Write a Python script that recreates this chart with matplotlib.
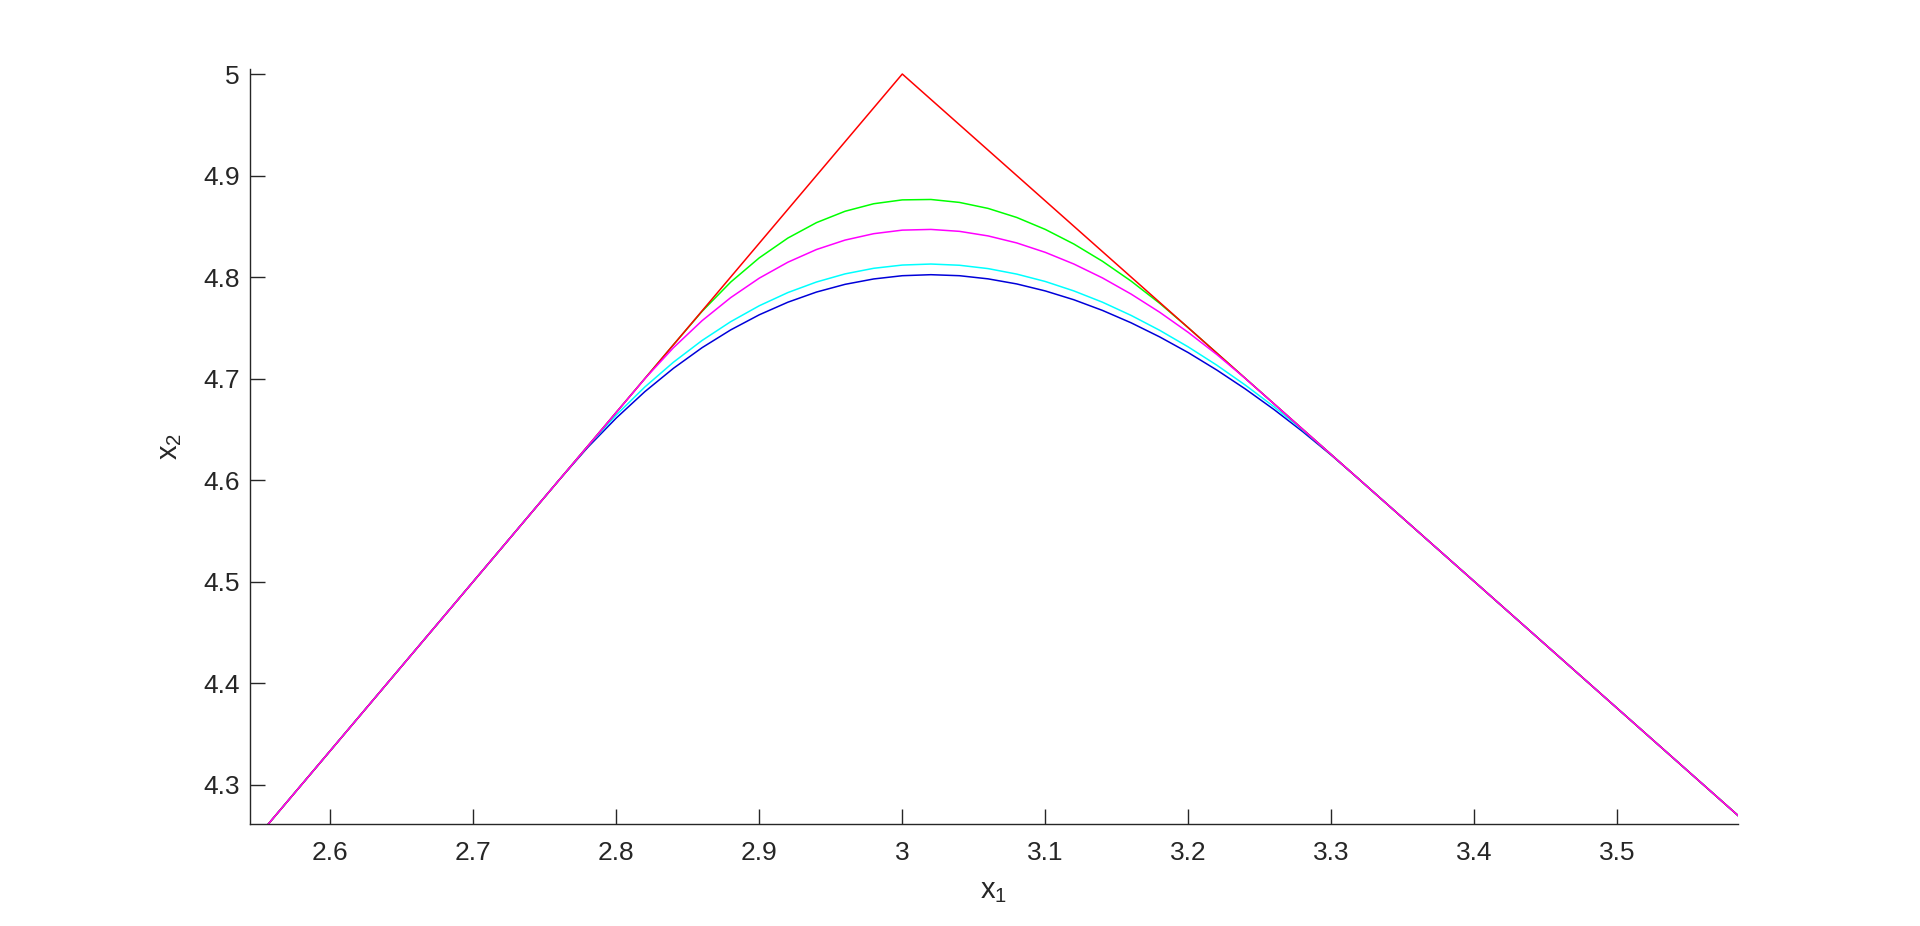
import matplotlib
matplotlib.use('Agg')
import matplotlib.pyplot as plt

# x1 samples shared by the smoothed curves
x1 = [2.54,
      2.70, 2.72, 2.74, 2.76, 2.78, 2.80, 2.82, 2.84, 2.86, 2.88, 2.90, 2.92,
      2.94, 2.96, 2.98, 3.00, 3.02, 3.04, 3.06, 3.08, 3.10, 3.12, 3.14, 3.16,
      3.18, 3.20, 3.22, 3.24, 3.26, 3.28, 3.30, 3.32, 3.34, 3.36,
      3.60]

# the kink (red)
x_red = [2.54, 3.00, 3.60]
y_red = [4.2333, 5.0, 4.25]

y_green = [4.2333,
           4.5000, 4.5333, 4.5667, 4.6000, 4.6333, 4.6667, 4.7000, 4.7333, 4.7662, 4.7950, 4.8189, 4.8384,
           4.8536, 4.8648, 4.8722, 4.8760, 4.8764, 4.8735, 4.8676, 4.8587, 4.8469, 4.8325, 4.8155, 4.7960,
           4.7741, 4.7500, 4.7250, 4.7000, 4.6750, 4.6500, 4.6250, 4.6000, 4.5750, 4.5500,
           4.2500]
y_magenta = [4.2333,
             4.5000, 4.5333, 4.5667, 4.6000, 4.6333, 4.6667, 4.6999, 4.7304, 4.7570, 4.7797, 4.7989, 4.8146,
             4.8271, 4.8364, 4.8427, 4.8462, 4.8469, 4.8450, 4.8405, 4.8336, 4.8243, 4.8128, 4.7991, 4.7832,
             4.7653, 4.7454, 4.7236, 4.6999, 4.6750, 4.6500, 4.6250, 4.6000, 4.5750, 4.5500,
             4.2500]
y_cyan = [4.2333,
          4.5000, 4.5333, 4.5667, 4.6000, 4.6332, 4.6641, 4.6917, 4.7161, 4.7375, 4.7560, 4.7717, 4.7847,
          4.7951, 4.8031, 4.8086, 4.8118, 4.8128, 4.8116, 4.8083, 4.8029, 4.7956, 4.7863, 4.7752, 4.7622,
          4.7475, 4.7311, 4.7131, 4.6934, 4.6721, 4.6493, 4.6250, 4.6000, 4.5750, 4.5500,
          4.2500]
y_blue = [4.2333,
          4.5000, 4.5333, 4.5667, 4.6000, 4.6321, 4.6611, 4.6871, 4.7101, 4.7304, 4.7479, 4.7628, 4.7752,
          4.7852, 4.7928, 4.7981, 4.8013, 4.8023, 4.8013, 4.7982, 4.7932, 4.7863, 4.7776, 4.7671, 4.7549,
          4.7410, 4.7255, 4.7083, 4.6896, 4.6694, 4.6477, 4.6245, 4.6000, 4.5750, 4.5500,
          4.2500]

xticks = [2.6, 2.7, 2.8, 2.9, 3.0, 3.1, 3.2, 3.3, 3.4, 3.5]
xticklabels = ['2.6', '2.7', '2.8', '2.9', '3', '3.1', '3.2', '3.3', '3.4', '3.5']
yticks = [4.3, 4.4, 4.5, 4.6, 4.7, 4.8, 4.9, 5.0]
yticklabels = ['4.3', '4.4', '4.5', '4.6', '4.7', '4.8', '4.9', '5']

plt.rcParams['font.family'] = ['Liberation Sans', 'DejaVu Sans']
plt.rcParams['mathtext.default'] = 'regular'

axc = (0.15, 0.15, 0.15)
fig = plt.figure(figsize=(19.2, 9.26), dpi=100)
ax = fig.add_axes([0.13, 0.11, 0.775, 0.815])

lw = 1.1
ax.plot(x1, y_blue, color=(0, 0, 0.85), lw=lw)
ax.plot(x1, y_cyan, color=(0, 1, 1), lw=lw)
ax.plot(x1, y_green, color=(0, 1, 0), lw=lw)
ax.plot(x_red, y_red, color=(1, 0, 0), lw=lw)
ax.plot(x1, y_magenta, color=(1, 0, 1), lw=lw)

ax.set_xlim(2.5436, 3.5841)
ax.set_ylim(4.261, 5.0045)
ax.set_xticks(xticks)
ax.set_xticklabels(xticklabels)
ax.set_yticks(yticks)
ax.set_yticklabels(yticklabels)

for s in ['top', 'right']:
    ax.spines[s].set_visible(False)
for s in ['left', 'bottom']:
    ax.spines[s].set_color(axc)
    ax.spines[s].set_linewidth(1.0)

ax.tick_params(axis='both', direction='in', length=11, width=1.0, color=axc,
               labelcolor=axc, labelsize=19)
ax.tick_params(axis='x', pad=12)
ax.tick_params(axis='y', pad=7)

ax.set_xlabel('x$_1$', fontsize=21, color=axc, labelpad=9)
ax.set_ylabel('x$_2$', fontsize=21, color=axc, labelpad=14)

fig.savefig('out.png', dpi=100)
